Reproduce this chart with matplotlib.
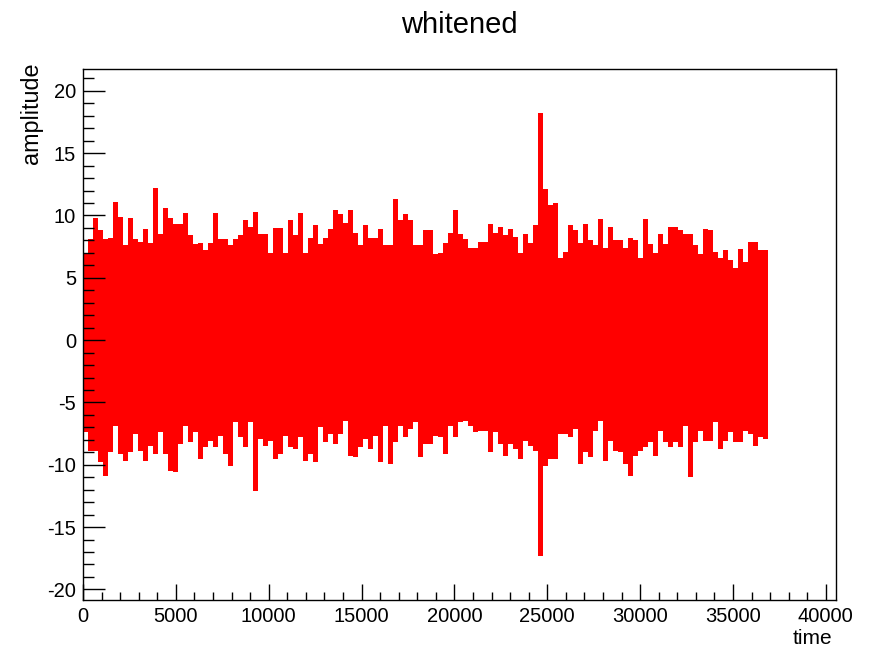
import numpy as np
import matplotlib
matplotlib.use("Agg")
import matplotlib.pyplot as plt
from matplotlib.ticker import MultipleLocator

plt.rcParams['font.family'] = ['Liberation Sans', 'DejaVu Sans']
plt.rcParams['axes.unicode_minus'] = False

# upper / lower envelope of the whitened trace
# (one value per ~270 time units, from t=0 to t_end)
t_end = 36864
hi = [7.0, 8.1, 9.8, 8.8, 8.1, 8.2, 11.1, 9.9, 7.6, 9.8, 8.1, 7.9, 8.9, 7.8, 12.2, 8.5, 10.6, 9.8, 9.3, 9.3, 10.2, 8.4, 7.7,
      7.8, 7.2, 7.8, 10.2, 8.1, 8.1, 7.6, 8.1, 8.4, 9.6, 9.1, 10.3, 8.5, 8.5, 7.0, 9.0, 9.0, 7.0, 9.6, 8.4, 10.2, 7.0, 8.2,
      9.2, 7.7, 8.2, 8.9, 10.4, 10.1, 9.4, 10.4, 8.6, 7.6, 9.2, 8.2, 8.2, 8.9, 7.6, 7.6, 11.3, 9.6, 10.1, 9.6, 7.6, 7.6, 8.8,
      8.8, 6.9, 7.0, 7.8, 8.6, 10.4, 8.5, 8.1, 7.4, 7.4, 7.9, 7.9, 9.3, 8.6, 9.1, 8.4, 8.9, 8.3, 7.0, 8.5, 7.8, 9.2, 18.2,
      12.1, 10.8, 11.0, 6.6, 7.1, 9.2, 8.8, 7.8, 9.3, 8.0, 7.6, 9.7, 7.4, 9.1, 8.0, 8.0, 7.4, 8.2, 8.0, 6.6, 9.7, 7.7, 7.0,
      8.5, 7.7, 9.1, 9.1, 8.8, 8.5, 8.5, 7.6, 6.9, 8.9, 8.8, 7.1, 6.6, 7.2, 6.4, 5.8, 7.3, 6.3, 7.9, 7.9, 7.2, 7.2]
lo = [-7.4, -8.9, -8.9, -9.8, -10.9, -9.0, -6.9, -9.1, -9.7, -9.0, -7.5, -8.9, -9.7, -8.5, -9.1, -7.4, -9.1, -10.5, -10.6, -8.3, -6.9, -8.2, -7.4,
      -9.5, -8.6, -8.1, -8.6, -7.7, -9.1, -10.1, -6.6, -7.8, -8.6, -6.6, -12.1, -7.9, -8.5, -8.1, -9.5, -9.1, -7.7, -8.6, -8.7, -7.8, -9.7, -9.1,
      -9.8, -7.0, -8.2, -7.5, -8.3, -7.5, -6.5, -9.3, -9.4, -8.6, -7.9, -8.7, -7.7, -9.8, -6.9, -9.9, -8.2, -6.9, -7.8, -7.1, -6.6, -9.4, -8.3,
      -8.3, -7.7, -7.8, -9.1, -6.9, -7.8, -6.6, -6.5, -6.9, -7.4, -7.3, -7.3, -9.0, -7.4, -8.3, -9.3, -8.3, -8.7, -9.5, -8.1, -8.5, -8.9, -17.3,
      -10.1, -9.5, -9.5, -7.5, -7.5, -7.8, -7.1, -9.9, -9.0, -9.4, -7.3, -6.5, -9.7, -8.1, -8.9, -9.0, -9.9, -10.9, -9.3, -8.9, -8.6, -8.2, -9.3,
      -7.3, -8.2, -8.6, -8.2, -8.6, -6.9, -11.0, -8.2, -7.3, -8.1, -8.1, -6.6, -8.7, -8.1, -7.4, -8.2, -8.2, -7.3, -7.5, -8.5, -7.8, -7.9]

t = np.linspace(0, t_end, len(hi) + 1)
hi_s = np.append(hi, hi[-1])
lo_s = np.append(lo, lo[-1])

fig = plt.figure(figsize=(8.69, 6.48), dpi=100)
ax = fig.add_axes([83/869, 48/648, 753/869, 531/648])

ax.fill_between(t, lo_s, hi_s, step='post', color='#ff0000', linewidth=0)

ax.set_xlim(0, 40550)
ax.set_ylim(-20.85, 21.75)
ax.xaxis.set_major_locator(MultipleLocator(5000))
ax.xaxis.set_minor_locator(MultipleLocator(1000))
ax.yaxis.set_major_locator(MultipleLocator(5))
ax.yaxis.set_minor_locator(MultipleLocator(1))

ax.tick_params(axis='x', which='major', direction='in', length=11.5, width=1, labelsize=14.5, pad=5)
ax.tick_params(axis='x', which='minor', direction='in', length=5.8, width=1)
ax.tick_params(axis='y', which='major', direction='in', length=16, width=1, labelsize=14.5, pad=5)
ax.tick_params(axis='y', which='minor', direction='in', length=8, width=1)
for s in ax.spines.values():
    s.set_linewidth(1.0)

fig.text(459.5/869, 1 - 25/648, 'whitened', ha='center', va='center', fontsize=21)
fig.text(31/869, 1 - 62/648, 'amplitude', rotation=90, ha='center', va='top', fontsize=16.8)
fig.text(832/869, 1 - 638/648, 'time', ha='right', va='center', fontsize=15)

fig.savefig('out.png', dpi=100)
